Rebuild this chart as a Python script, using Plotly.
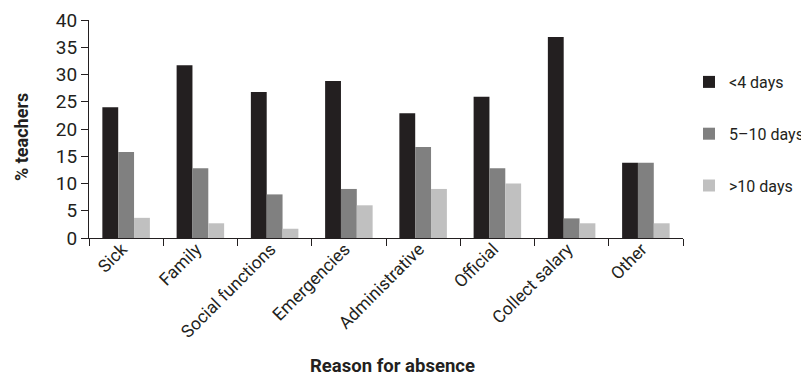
import plotly.graph_objects as go

categories = ["Sick", "Family", "Social functions", "Emergencies", "Administrative",
              "Official", "Collect salary", "Other"]
lt4_days = [24, 31.7, 26.8, 28.8, 22.9, 25.9, 36.9, 13.8]
d5_10_days = [15.8, 12.8, 8.0, 9.0, 16.7, 12.8, 3.6, 13.8]
gt10_days = [3.7, 2.7, 1.7, 6.0, 9.0, 10.0, 2.7, 2.7]
series_names = ["<4 days", "5\u201310 days", ">10 days"]
y_ticks = [0, 5, 10, 15, 20, 25, 30, 35, 40]

colors = ["#231f20", "#808080", "#c0c0c0"]
FONT = "Roboto, Arial, sans-serif"

# the page body adds an 8px offset; the figure is sized to compensate
OFF = 8
W, H = 809 - OFF, 380 - OFF
L, T = 89 - OFF, 20 - OFF
R, B = 126, 142
PW, PH = W - L - R, H - T - B


def px_x(sx):
    """screen x -> paper x"""
    return (sx - OFF - L) / PW


def px_y(sy):
    """screen y -> paper y"""
    return (T + PH - (sy - OFF)) / PH


fig = go.Figure()
for i, (name, vals) in enumerate(zip(series_names, [lt4_days, d5_10_days, gt10_days])):
    fig.add_trace(go.Bar(
        x=categories, y=vals, name=name, legendgroup=name,
        marker=dict(color=colors[i], line=dict(width=0)),
    ))

fig.update_layout(
    width=W, height=H,
    margin=dict(l=L, r=R, t=T, b=B, autoexpand=False),
    paper_bgcolor="white", plot_bgcolor="white",
    barmode="group", bargap=0.36, bargroupgap=0,
    font=dict(family=FONT, size=17, color="#231f20"),
    legend=dict(x=px_x(689), y=px_y(65), xanchor="left", yanchor="top",
                font=dict(size=16), tracegroupgap=28,
                itemwidth=30, bgcolor="rgba(0,0,0,0)"),
    xaxis=dict(showline=True, linecolor="#231f20", linewidth=1.2,
               ticks="outside", tickson="boundaries", ticklen=7,
               tickcolor="#231f20", tickangle=-45, automargin=False,
               ticklabelshift=-4, ticklabelstandoff=-7,
               tickfont=dict(size=17.5), showgrid=False),
    yaxis=dict(range=[0, 40], tickvals=y_ticks, showline=True,
               linecolor="#231f20", linewidth=1.2, ticks="outside",
               ticklen=7, tickcolor="#231f20", tickfont=dict(size=19),
               automargin=False, showgrid=False, zeroline=False),
    annotations=[
        dict(text="<b>Reason for absence</b>", xref="paper", yref="paper",
             x=px_x(392), y=px_y(366),
             xanchor="center", yanchor="middle", showarrow=False,
             font=dict(size=18.5)),
        dict(text="<b>% teachers</b>", xref="paper", yref="paper",
             x=px_x(21), y=px_y(137), textangle=-90,
             xanchor="center", yanchor="middle", showarrow=False,
             font=dict(size=18)),
    ],
)

fig.write_html("out.html")
